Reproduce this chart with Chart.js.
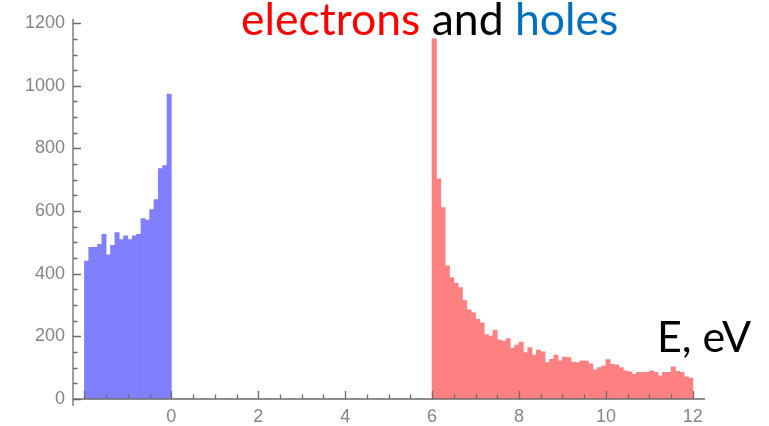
<!DOCTYPE html>
<html>
<head>
<meta charset="utf-8">
<script src="https://cdn.jsdelivr.net/npm/chart.js@4/dist/chart.umd.min.js"></script>
<style>
    html, body { margin: 0; padding: 0; background: #fff; }
    #wrap { position: relative; width: 769px; height: 426px; overflow: hidden; }
    #plot { position: absolute; left: 0; top: 0; }
    .label { position: absolute; font-family: Lato, "Open Sans", sans-serif; white-space: nowrap; }
    #title { left: 241px; top: -4px; font-size: 44.5px; line-height: 44px; }
    #unit { left: 657px; top: 314px; font-size: 43px; line-height: 43px; color: #000; }
</style>
</head>
<body>
<div id="wrap">
    <canvas id="plot" width="769" height="426"></canvas>
    <div id="title" class="label"><span style="color:#ff0000">electrons</span> <span style="color:#000">and</span> <span style="color:#0070c0">holes</span></div>
    <div id="unit" class="label">E, eV</div>
</div>
<script>
// histogram bins, 0.1 eV wide
const binWidth = 0.1;
const holeBinStart = -2.0;
const electronBinStart = 6.0;

// counts per bin, holes (valence side)
const holeCounts = [
    440, 484, 484, 494, 526, 460, 491, 531, 509, 521,
    509, 521, 526, 576, 571, 605, 637, 736, 745, 974
];

// counts per bin, electrons (conduction side)
const electronCounts = [
    1150, 703, 611, 425, 388, 370, 356, 314, 285, 275,
    254, 243, 206, 201, 219, 188, 185, 193, 162, 172,
    182, 148, 164, 140, 156, 151, 116, 127, 140, 122,
    134, 132, 118, 116, 122, 121, 112, 93, 100, 105,
    126, 111, 108, 100, 90, 87, 79, 85, 85, 85,
    90, 85, 74, 85, 85, 103, 88, 85, 71, 67
];

const xTickLabels = [-2, 0, 2, 4, 6, 8, 10, 12];
const yTickLabels = [0, 200, 400, 600, 800, 1000, 1200];

const toBins = (start, counts) =>
    counts.map((c, i) => ({ x: start + (i + 0.5) * binWidth, y: c }));

const axisGray = "#6b6b6b";
const labelGray = "#858585";

// Mathematica-style axes: lines plus inward major/minor ticks, over the bars
const inwardTicks = {
    id: "inwardTicks",
    afterDraw(chart) {
        const { ctx, chartArea, scales } = chart;
        const xs = scales.x, ys = scales.y;
        const x0 = chartArea.left, y0 = chartArea.bottom;
        ctx.save();
        ctx.strokeStyle = axisGray;
        ctx.lineWidth = 1.3;
        ctx.beginPath();

        // axis lines; y axis runs a little past the origin
        ctx.moveTo(x0, chartArea.top);
        ctx.lineTo(x0, y0 + 7);
        ctx.moveTo(x0, y0);
        ctx.lineTo(xs.getPixelForValue(xs.max), y0);

        for (let v = 0; v <= 1200; v += 50) {
            const y = Math.round(ys.getPixelForValue(v)) + 0.5;
            const len = v % 200 === 0 ? 8 : 4.5;
            ctx.moveTo(x0, y);
            ctx.lineTo(x0 + len, y);
        }
        for (let v = -2; v <= 12; v += 0.5) {
            const x = Math.round(xs.getPixelForValue(v)) + 0.5;
            const len = v % 2 === 0 ? 8 : 4.5;
            ctx.moveTo(x, y0);
            ctx.lineTo(x, y0 - len);
        }
        ctx.stroke();
        ctx.restore();
    }
};

const tickFont = { family: "'Liberation Sans', Arial, sans-serif", size: 18 };

new Chart(document.getElementById("plot"), {
    type: "bar",
    data: {
        datasets: [
            {
                label: "holes",
                data: toBins(holeBinStart, holeCounts),
                backgroundColor: "rgb(128,128,255)"
            },
            {
                label: "electrons",
                data: toBins(electronBinStart, electronCounts),
                backgroundColor: "rgb(255,128,128)"
            }
        ]
    },
    options: {
        responsive: false,
        animation: false,
        datasets: {
            bar: {
                grouped: false,
                barPercentage: 1,
                categoryPercentage: 1,
                borderWidth: 0
            }
        },
        layout: { padding: { left: 10, right: 64, top: 15, bottom: 0 } },
        plugins: {
            legend: { display: false },
            tooltip: { enabled: false }
        },
        scales: {
            x: {
                type: "linear",
                offset: false,
                min: -2.263,
                max: 12.28,
                grid: { display: false, drawTicks: false },
                border: { display: false },
                ticks: {
                    font: tickFont,
                    color: labelGray,
                    padding: 7,
                    maxRotation: 0,
                    callback: (v) => (v < 0 ? "" : String(v))
                },
                afterBuildTicks: (scale) => {
                    scale.ticks = xTickLabels.map((v) => ({ value: v }));
                },
                afterFit: (scale) => { scale.height = 27; }
            },
            y: {
                min: 0,
                max: 1214,
                grid: { display: false, drawTicks: false },
                border: { display: false },
                ticks: {
                    font: tickFont,
                    color: labelGray,
                    padding: 8,
                    callback: (v) => String(v)
                },
                afterBuildTicks: (scale) => {
                    scale.ticks = yTickLabels.map((v) => ({ value: v }));
                },
                afterFit: (scale) => { scale.width = 63; }
            }
        }
    },
    plugins: [inwardTicks]
});
</script>
</body>
</html>
